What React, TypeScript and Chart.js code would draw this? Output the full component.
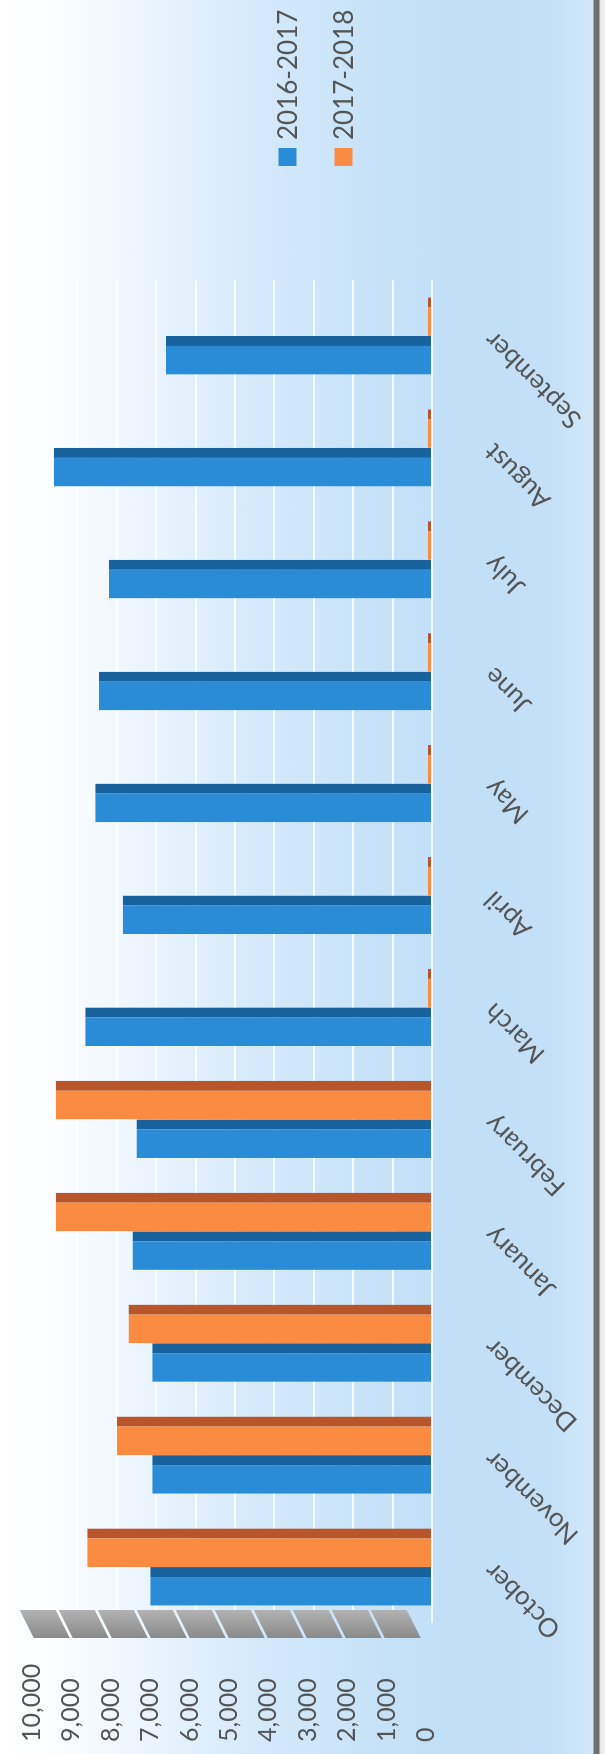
import React, { useEffect, useRef } from "react";
import { Chart, registerables } from "chart.js";

Chart.register(...registerables);

// ---- data ----
const months = [
  "October",
  "November",
  "December",
  "January",
  "February",
  "March",
  "April",
  "May",
  "June",
  "July",
  "August",
  "September",
];
const values2016_2017 = [7150, 7100, 7100, 7600, 7500, 8800, 7850, 8550, 8450, 8200, 9600, 6750];
const values2017_2018 = [8750, 8000, 7700, 9550, 9550, 0, 0, 0, 0, 0, 0, 0];
const seriesNames = ["2016-2017", "2017-2018"];
const yMin = 0;
const yMax = 10000;
const yStep = 1000;

// ---- styles ----
const BLUE = "#2a8bd7";
const BLUE_DARK = "#17629c";
const ORANGE = "#fb8b40";
const ORANGE_DARK = "#b9552b";
const TEXT = "#555555";
const FONT = "Lato, 'Open Sans', sans-serif";

const W = 1754; // chart drawn in its own orientation, then turned a quarter left
const H = 605;

const slabPlugin = {
  id: "slab",
  beforeDatasetsDraw(chart: any) {
    const { ctx, chartArea, scales } = chart;
    const y = scales.y;
    const x0 = chartArea.left - 15;
    const x1 = chartArea.left + 13;
    const top = y.getPixelForValue(10500);
    const bot = y.getPixelForValue(600);
    const n = 10;
    const seg = (bot - top) / n;
    const skew = 14;
    ctx.save();
    const g = ctx.createLinearGradient(x0, 0, x1, 0);
    g.addColorStop(0, "#8a8a8a");
    g.addColorStop(1, "#b2b2b2");
    ctx.fillStyle = g;
    for (let i = 0; i < n; i++) {
      const ya = top + i * seg + 1.5;
      const yb = top + (i + 1) * seg - 1.5;
      ctx.beginPath();
      ctx.moveTo(x1, ya);
      ctx.lineTo(x1, yb);
      ctx.lineTo(x0, yb + skew);
      ctx.lineTo(x0, ya + skew);
      ctx.closePath();
      ctx.fill();
    }
    ctx.restore();
  },
};

const legendPlugin = {
  id: "sideLegend",
  afterDraw(chart: any) {
    const { ctx, chartArea } = chart;
    const lx = chartArea.right + 114;
    const mid = chart.height / 2 + 13;
    const gap = 56;
    ctx.save();
    ctx.font = `26px ${FONT}`;
    ctx.textBaseline = "middle";
    ctx.textAlign = "left";
    chart.data.datasets.forEach((ds: any, i: number) => {
      const yc = mid + (i - 0.5) * gap;
      ctx.fillStyle = ds.backgroundColor;
      ctx.fillRect(lx, yc - 9, 18, 18);
      ctx.fillStyle = TEXT;
      ctx.fillText(ds.label, lx + 26, yc + 1);
    });
    ctx.restore();
  },
};

export default function App() {
  const canvasRef = useRef<HTMLCanvasElement | null>(null);

  useEffect(() => {
    if (!canvasRef.current) return;
    const chart = new Chart(canvasRef.current, {
      type: "bar",
      data: {
        labels: months,
        datasets: [
          {
            label: seriesNames[0],
            data: values2016_2017,
            backgroundColor: BLUE,
            borderColor: BLUE_DARK,
            borderWidth: { top: 0, left: 0, bottom: 0, right: 10 },
            categoryPercentage: 0.69,
            barPercentage: 1.0,
          },
          {
            label: seriesNames[1],
            data: values2017_2018,
            backgroundColor: ORANGE,
            borderColor: ORANGE_DARK,
            borderWidth: { top: 0, left: 0, bottom: 0, right: 10 },
            categoryPercentage: 0.69,
            barPercentage: 1.0,
            minBarLength: 4,
          },
        ],
      },
      options: {
        responsive: false,
        animation: false,
        devicePixelRatio: 1,
        layout: { padding: { top: 38, right: 280, left: 12, bottom: 0 } },
        plugins: {
          legend: { display: false },
          tooltip: { enabled: false },
        },
        scales: {
          x: {
            grid: { display: false, drawTicks: false },
            border: { display: false },
            ticks: {
              autoSkip: false,
              minRotation: 45,
              maxRotation: 45,
              padding: 46,
              color: TEXT,
              font: { family: FONT, size: 26 },
            },
            afterFit: (s: any) => {
              s.height = 173;
            },
          },
          y: {
            min: yMin,
            max: yMax,
            grid: { color: "rgba(255,255,255,0.8)", lineWidth: 2, drawTicks: false },
            border: { display: false },
            ticks: {
              stepSize: yStep,
              padding: 0,
              crossAlign: "far",
              labelOffset: -6,
              color: TEXT,
              font: { family: FONT, size: 25 },
              callback: (v: any) => Number(v).toLocaleString("en-US"),
            },
            afterFit: (s: any) => {
              s.width = 119;
            },
          },
        },
      },
      plugins: [slabPlugin, legendPlugin],
    });
    return () => chart.destroy();
  }, []);

  return (
    <div
      style={{
        position: "absolute",
        left: 0,
        top: 0,
        width: H,
        height: W,
        overflow: "hidden",
        background: "#ffffff",
      }}
    >
      <div
        style={{
          position: "absolute",
          left: 0,
          top: 0,
          width: W,
          height: H,
          transformOrigin: "0 0",
          transform: `translateY(${W}px) rotate(-90deg)`,
          background:
            "linear-gradient(to bottom, #ffffff 0px, #fbfdff 60px, #eaf4fd 150px, #d5eafb 250px, #c6e2f8 380px, #c0dff7 450px, #c3e0f7 550px, #d2e8f9 593px, #6e6e6e 594px, #6e6e6e 599px, #e4e4e4 600px, #f2f2f2 605px)",
        }}
      >
        <canvas
          ref={canvasRef}
          width={W}
          height={H}
          style={{ width: W, height: H, display: "block" }}
        />
      </div>
    </div>
  );
}
